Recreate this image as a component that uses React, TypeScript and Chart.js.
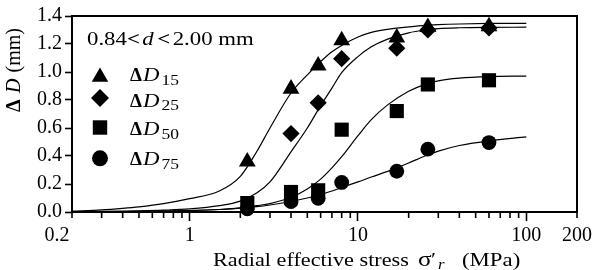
import React, { useEffect, useRef } from 'react';
import { Chart, registerables } from 'chart.js';

Chart.register(...registerables);

// Measured points (radial effective stress, MPa)
const stressPts = [2.2, 4.0, 5.8, 8.0, 17, 26, 60];
const d15Pts = [0.36, 0.88, 1.045, 1.225, 1.245, 1.32, 1.325];
const d25Pts: (number | null)[] = [null, 0.56, 0.78, 1.095, 1.17, 1.3, 1.315];
const d50Pts = [0.064, 0.143, 0.155, 0.588, 0.721, 0.911, 0.941];
const d75Pts = [0.023, 0.074, 0.098, 0.211, 0.291, 0.449, 0.496];

// Fitted curves
const curveX = [0.2, 0.3, 0.4, 0.5, 0.7, 1, 1.5, 2, 2.5, 3, 4, 5, 6, 7, 8, 10, 12, 15, 20, 25, 30, 40, 60, 100];
const d15Fit = [0.006, 0.015, 0.026, 0.037, 0.06, 0.095, 0.15, 0.255, 0.43, 0.6, 0.85, 0.98, 1.075, 1.145, 1.19, 1.25, 1.283, 1.305, 1.322, 1.333, 1.338, 1.343, 1.347, 1.348];
const d25Fit = [0.002, 0.004, 0.006, 0.008, 0.013, 0.022, 0.045, 0.078, 0.135, 0.215, 0.43, 0.6, 0.76, 0.885, 0.995, 1.11, 1.18, 1.235, 1.28, 1.3, 1.31, 1.316, 1.319, 1.32];
const d50Fit = [0.001, 0.002, 0.003, 0.004, 0.007, 0.01, 0.018, 0.03, 0.045, 0.06, 0.105, 0.165, 0.235, 0.315, 0.395, 0.545, 0.66, 0.765, 0.862, 0.912, 0.937, 0.956, 0.967, 0.971];
const d75Fit = [0.001, 0.002, 0.003, 0.004, 0.006, 0.01, 0.018, 0.028, 0.038, 0.05, 0.075, 0.1, 0.125, 0.15, 0.175, 0.215, 0.25, 0.29, 0.35, 0.4, 0.435, 0.475, 0.508, 0.536];

// Axes
const xTickValues = [0.2, 0.3, 0.4, 0.5, 0.6, 0.7, 0.8, 0.9, 1, 2, 3, 4, 5, 6, 7, 8, 9, 10, 20, 30, 40, 50, 60, 70, 80, 90, 100, 200];
const xMajorTicks = [1, 10, 100];
const xLabelValues = [0.2, 1, 10, 100, 200];
const xLabelTexts = ['0.2      ', '1', '10', '100', '200'];
const yTickValues = [0, 0.2, 0.4, 0.6, 0.8, 1.0, 1.2, 1.4];

const SERIF = '"Liberation Serif", "Times New Roman", Times, serif';

type Part = { text: string; font: string; x: number; dy?: number; sx?: number };

function drawParts(ctx: CanvasRenderingContext2D, baseY: number, parts: Part[]) {
  for (const p of parts) {
    ctx.save();
    ctx.translate(p.x, baseY + (p.dy || 0));
    ctx.scale(p.sx || 1, 1);
    ctx.font = p.font;
    ctx.fillText(p.text, 0, 0);
    ctx.restore();
  }
}

function drawSeq(ctx: CanvasRenderingContext2D, x: number, y: number, sx: number, parts: { text: string; font: string; gap?: number; dy?: number }[]) {
  ctx.save();
  ctx.translate(x, y);
  ctx.scale(sx, 1);
  let cx = 0;
  for (const p of parts) {
    cx += p.gap || 0;
    ctx.font = p.font;
    ctx.fillText(p.text, cx, p.dy || 0);
    cx += ctx.measureText(p.text).width;
  }
  ctx.restore();
}

const decorPlugin = {
  id: 'decor',
  afterDraw(chart: any) {
    const { ctx, chartArea: a, scales } = chart;
    const xs = scales.x;
    ctx.save();
    ctx.strokeStyle = '#000';
    ctx.fillStyle = '#000';
    ctx.lineWidth = 2;
    ctx.beginPath();
    ctx.moveTo(a.left, a.top);
    ctx.lineTo(a.right, a.top);
    ctx.lineTo(a.right, a.bottom);
    ctx.stroke();

    // minor x ticks
    ctx.lineWidth = 1.6;
    for (const v of xTickValues) {
      if (xMajorTicks.includes(v)) continue;
      const px = xs.getPixelForValue(v);
      ctx.beginPath();
      ctx.moveTo(px, a.bottom);
      ctx.lineTo(px, a.bottom + 6);
      ctx.stroke();
    }

    ctx.textBaseline = 'alphabetic';
    ctx.textAlign = 'left';
    // header
    drawSeq(ctx, 87, 45, 1.2, [
      { text: '0.84', font: `19px ${SERIF}` },
      { text: '<', font: `bold 19px ${SERIF}` },
      { text: 'd', font: `italic 19px ${SERIF}`, gap: 2 },
      { text: '<', font: `bold 19px ${SERIF}`, gap: 3 },
      { text: '2.00 mm', font: `19px ${SERIF}`, gap: 2 },
    ]);

    // legend markers
    const mx = 100;
    {
      const r = 9.5, y = 77;
      ctx.beginPath();
      ctx.moveTo(mx, y - r);
      ctx.lineTo(mx + r * Math.sin((2 * Math.PI) / 3), y + r / 2);
      ctx.lineTo(mx - r * Math.sin((2 * Math.PI) / 3), y + r / 2);
      ctx.closePath();
      ctx.fill();
    }
    {
      const r = 9, y = 98;
      ctx.beginPath();
      ctx.moveTo(mx, y - r);
      ctx.lineTo(mx + r, y);
      ctx.lineTo(mx, y + r);
      ctx.lineTo(mx - r, y);
      ctx.closePath();
      ctx.fill();
    }
    ctx.fillRect(mx - 7.2, 127.5 - 7.2, 14.4, 14.4);
    ctx.beginPath();
    ctx.arc(mx, 158.3, 8, 0, Math.PI * 2);
    ctx.fill();

    const rows: [string, number][] = [['15', 81], ['25', 106.5], ['50', 135], ['75', 165]];
    for (const [sub, by] of rows) {
      drawParts(ctx, by, [
        { text: 'Δ', font: `bold 19px ${SERIF}`, x: 130 },
        { text: 'D', font: `italic 19px ${SERIF}`, x: 143, sx: 1.2 },
        { text: sub, font: `14px ${SERIF}`, x: 161.5, dy: 3.5, sx: 1.25 },
      ]);
    }

    // x axis title
    drawParts(ctx, 266, [
      { text: 'Radial effective stress', font: `19px ${SERIF}`, x: 213, sx: 1.17 },
      { text: 'σ', font: `21px ${SERIF}`, x: 418, sx: 1.2 },
      { text: '′', font: `19px ${SERIF}`, x: 431, sx: 1.2 },
      { text: 'r', font: `italic 14px ${SERIF}`, x: 438, dy: 3, sx: 1.2 },
      { text: '(MPa)', font: `19px ${SERIF}`, x: 462, sx: 1.2 },
    ]);

    // y axis title (reads bottom to top, from y=112 up to y=28)
    ctx.save();
    ctx.translate(20, 112);
    ctx.rotate(-Math.PI / 2);
    ctx.font = `bold 20px ${SERIF}`;
    ctx.fillText('Δ', 0, 0);
    ctx.font = `20px ${SERIF}`;
    const mmW = ctx.measureText('(mm)').width;
    ctx.fillText('(mm)', 84 - mmW, 0);
    ctx.font = `italic 20px ${SERIF}`;
    const dW = ctx.measureText('D').width;
    ctx.fillText('D', Math.max(14, 84 - mmW - 6 - dW), 0);
    ctx.restore();

    ctx.restore();
  },
};

function pts(ys: (number | null)[], xs: number[]) {
  const out: { x: number; y: number }[] = [];
  xs.forEach((x, i) => {
    const y = ys[i];
    if (y !== null && y !== undefined) out.push({ x, y });
  });
  return out;
}

export default function App() {
  const ref = useRef<HTMLCanvasElement | null>(null);

  useEffect(() => {
    if (!ref.current) return;
    const markerDs = (data: any, style: string, radius: number) => ({
      data,
      showLine: false,
      pointStyle: style,
      pointRadius: radius,
      pointHoverRadius: radius,
      pointBackgroundColor: '#000',
      pointBorderColor: '#000',
      pointBorderWidth: 0,
      clip: false,
      order: 0,
    });
    const curveDs = (ys: number[]) => ({
      data: pts(ys, curveX),
      showLine: true,
      pointRadius: 0,
      pointHoverRadius: 0,
      borderColor: '#000',
      borderWidth: 1.2,
      cubicInterpolationMode: 'monotone',
      fill: false,
      order: 1,
    });

    const chart = new Chart(ref.current, {
      type: 'scatter',
      data: {
        datasets: [
          markerDs(pts(d15Pts, stressPts), 'triangle', 9.7),
          markerDs(pts(d25Pts, stressPts), 'rectRot', 8.6),
          markerDs(pts(d50Pts, stressPts), 'rect', 10),
          markerDs(pts(d75Pts, stressPts), 'circle', 7.4),
          curveDs(d15Fit),
          curveDs(d25Fit),
          curveDs(d50Fit),
          curveDs(d75Fit),
        ] as any,
      },
      options: {
        responsive: false,
        animation: false,
        events: [],
        layout: { padding: { left: 0, right: 17, top: 16, bottom: 0 } },
        plugins: { legend: { display: false }, tooltip: { enabled: false } },
        scales: {
          x: {
            type: 'logarithmic',
            position: 'bottom',
            min: 0.2,
            max: 200,
            afterBuildTicks: (s: any) => {
              s.ticks = xTickValues.map((v) => ({ value: v }));
            },
            afterFit: (s: any) => {
              s.height = 58;
            },
            border: { display: true, width: 2, color: '#000' },
            grid: {
              display: true,
              drawOnChartArea: false,
              drawTicks: true,
              tickLength: 9,
              tickWidth: 1.6,
              tickColor: (c: any) => (c.tick && xMajorTicks.includes(c.tick.value) ? '#000' : 'rgba(0,0,0,0)'),
            },
            ticks: {
              autoSkip: false,
              maxRotation: 0,
              minRotation: 0,
              padding: 3,
              color: '#000',
              font: { family: SERIF, size: 20 },
              callback: (v: any) => {
                const i = xLabelValues.indexOf(Number(v));
                return i >= 0 ? xLabelTexts[i] : '';
              },
            },
          },
          y: {
            type: 'linear',
            min: 0,
            max: 1.4,
            afterBuildTicks: (s: any) => {
              s.ticks = yTickValues.map((v) => ({ value: v }));
            },
            afterFit: (s: any) => {
              s.width = 72;
            },
            border: { display: true, width: 2, color: '#000' },
            grid: {
              display: true,
              drawOnChartArea: false,
              drawTicks: true,
              tickLength: 7,
              tickWidth: 1.6,
              tickColor: '#000',
            },
            ticks: {
              padding: 3,
              color: '#000',
              font: { family: SERIF, size: 20 },
              callback: (v: any) => Number(v).toFixed(1),
            },
          },
        },
      } as any,
      plugins: [decorPlugin],
    });
    return () => chart.destroy();
  }, []);

  return (
    <canvas
      ref={ref}
      width={595}
      height={270}
      style={{ position: 'absolute', left: 0, top: 0, width: 595, height: 270, background: '#fff' }}
    />
  );
}
